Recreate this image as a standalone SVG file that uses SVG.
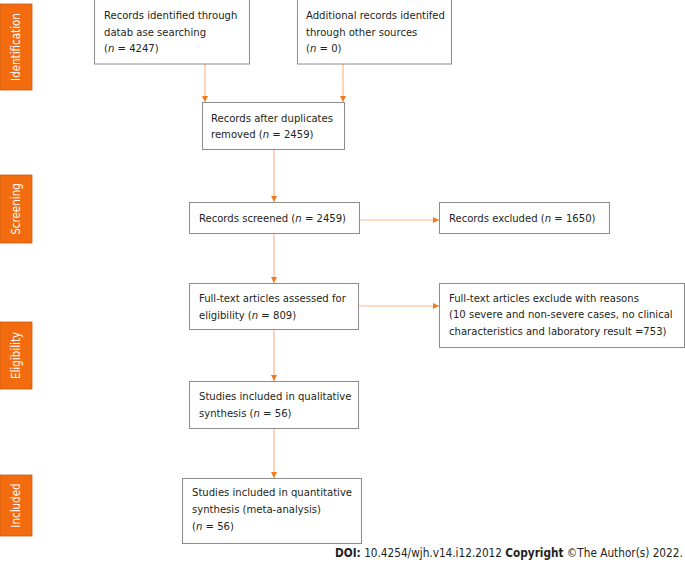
<svg xmlns="http://www.w3.org/2000/svg" width="685" height="564" viewBox="0 0 685 564">
<defs>
<style>
.box{fill:#fff;stroke:#8c8c8c;stroke-width:1}
.t{font-family:"DejaVu Sans Condensed","DejaVu Sans",sans-serif;font-size:11.2px;fill:#231f20}
.side{fill:#f26b0f;stroke:#c85a10;stroke-width:0.8}
.st{font-family:"DejaVu Sans Condensed","DejaVu Sans",sans-serif;font-size:11.5px;fill:#fff;text-anchor:middle}
.c{stroke:#fbb88a;stroke-width:1.2;fill:none;marker-end:url(#ah)}
.f{font-family:"DejaVu Sans Condensed","DejaVu Sans",sans-serif;font-size:11.7px;fill:#231f20}
</style>
<marker id="ah" markerWidth="6" markerHeight="6" refX="6" refY="3" orient="auto" markerUnits="userSpaceOnUse">
<path d="M0,0 L6,3 L0,6 Z" fill="#f47a20"/>
</marker>
</defs>
<rect width="685" height="564" fill="#fff"/>

<g id="side-identification"><rect class="side" x="0" y="4" width="32" height="86"/><text class="st" transform="translate(20,47) rotate(-90)">Identification</text></g>
<g id="side-screening"><rect class="side" x="0" y="175" width="32" height="68"/><text class="st" transform="translate(20,209) rotate(-90)">Screening</text></g>
<g id="side-eligibility"><rect class="side" x="0" y="322" width="32" height="67"/><text class="st" transform="translate(20,355.5) rotate(-90)">Eligibility</text></g>
<g id="side-included"><rect class="side" x="0" y="475" width="32" height="61"/><text class="st" transform="translate(20,505.5) rotate(-90)">Included</text></g>

<g id="connectors">
<line class="c" x1="205" y1="64" x2="205" y2="102"/>
<line class="c" x1="343" y1="64" x2="343" y2="102"/>
<line class="c" x1="274" y1="149" x2="274" y2="202"/>
<line class="c" x1="274" y1="233" x2="274" y2="283"/>
<line class="c" x1="359" y1="220" x2="439" y2="220"/>
<line class="c" x1="358" y1="306" x2="439" y2="306"/>
<line class="c" x1="274" y1="329" x2="274" y2="381"/>
<line class="c" x1="274" y1="428" x2="274" y2="478"/>
</g>

<g id="n1"><rect class="box" x="94.5" y="-0.5" width="155" height="64.5"/>
<text class="t" x="104" y="19">Records identified through</text>
<text class="t" x="104" y="36">datab ase searching</text>
<text class="t" x="104" y="52">(<tspan font-style="italic">n</tspan> = 4247)</text></g>

<g id="n2"><rect class="box" x="297.5" y="-0.5" width="154" height="64.5"/>
<text class="t" x="306" y="19">Additional records identifed</text>
<text class="t" x="306" y="36">through other sources</text>
<text class="t" x="306" y="52">(<tspan font-style="italic">n</tspan> = 0)</text></g>

<g id="n3"><rect class="box" x="202.5" y="102.5" width="142" height="47"/>
<text class="t" x="211" y="122">Records after duplicates</text>
<text class="t" x="211" y="138">removed (<tspan font-style="italic">n</tspan> = 2459)</text></g>

<g id="n4"><rect class="box" x="189.5" y="202.5" width="170" height="31"/>
<text class="t" x="199" y="222">Records screened (<tspan font-style="italic">n</tspan> = 2459)</text></g>

<g id="n5"><rect class="box" x="439.5" y="202.5" width="170" height="31"/>
<text class="t" x="449" y="222">Records excluded (<tspan font-style="italic">n</tspan> = 1650)</text></g>

<g id="n6"><rect class="box" x="189.5" y="283.5" width="169" height="46"/>
<text class="t" x="199" y="302">Full-text articles assessed for</text>
<text class="t" x="199" y="319">eligibility (<tspan font-style="italic">n</tspan> = 809)</text></g>

<g id="n7"><rect class="box" x="439.5" y="283.5" width="245" height="64"/>
<text class="t" x="449" y="302">Full-text articles exclude with reasons</text>
<text class="t" x="449" y="318">(10 severe and non-severe cases, no clinical</text>
<text class="t" x="449" y="335">characteristics and laboratory result =753)</text></g>

<g id="n8"><rect class="box" x="189.5" y="381.5" width="169" height="47"/>
<text class="t" x="199" y="400">Studies included in qualitative</text>
<text class="t" x="199" y="417">synthesis (<tspan font-style="italic">n</tspan> = 56)</text></g>

<g id="n9"><rect class="box" x="182.5" y="478.5" width="179" height="65"/>
<text class="t" x="192" y="496">Studies included in quantitative</text>
<text class="t" x="192" y="513">synthesis (meta-analysis)</text>
<text class="t" x="192" y="530">(<tspan font-style="italic">n</tspan> = 56)</text></g>

<text class="f" x="335" y="557"><tspan font-weight="bold">DOI:</tspan> 10.4254/wjh.v14.i12.2012 <tspan font-weight="bold">Copyright</tspan> ©The Author(s) 2022.</text>
</svg>
